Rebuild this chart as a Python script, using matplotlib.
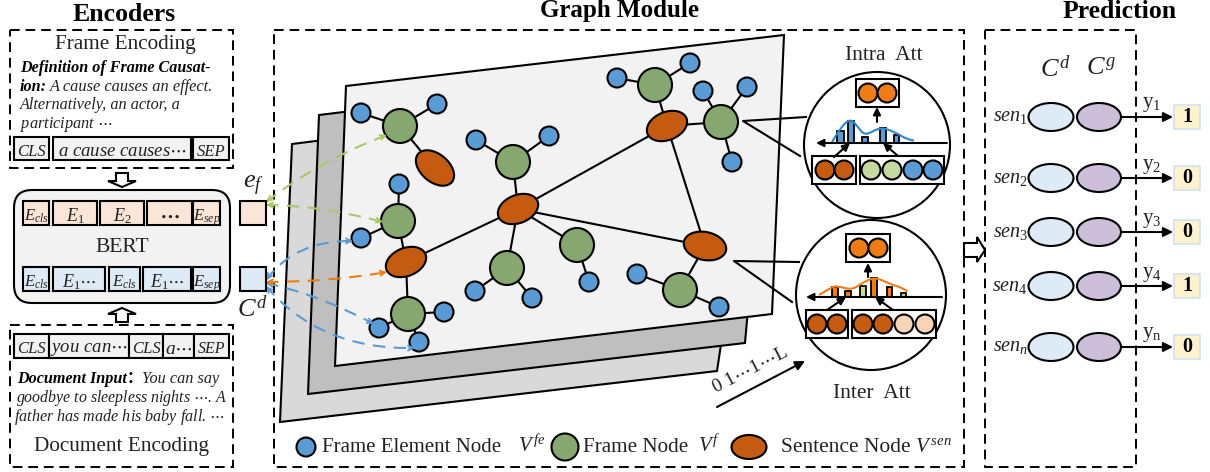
"""Pipeline figure: encoders, graph module and prediction panels, in pixel coordinates."""
import matplotlib
matplotlib.use("Agg")
import matplotlib.pyplot as plt
from matplotlib.patches import Circle, Ellipse, FancyBboxPatch, PathPatch, Polygon, Rectangle
from matplotlib.path import Path

plt.rcParams["font.family"] = ["Liberation Serif", "DejaVu Serif"]
plt.rcParams["mathtext.fontset"] = "custom"
plt.rcParams["mathtext.rm"] = "Liberation Serif"
plt.rcParams["mathtext.it"] = "Liberation Serif:italic"
plt.rcParams["mathtext.bf"] = "Liberation Serif:bold"

# ---------------------------------------------------------------------------
# Colours
# ---------------------------------------------------------------------------
BLUE = "#5B9BD5"
GREEN = "#86A870"
RUST = "#C55A11"
ORANGE = "#ED7D14"
PALE_GREEN = "#C5D9A0"
PEACH = "#F8D3B6"
TOKEN_GREY = "#F2F2F2"
TOKEN_PEACH = "#FBE5D6"
TOKEN_BLUE = "#DEEAF6"
PURPLE = "#CDBFDA"
INK = "#222222"

# ---------------------------------------------------------------------------
# Graph nodes
# ---------------------------------------------------------------------------
blue_nodes = {
    "a1": (361, 113), "a2": (437, 104), "b1": (476, 140), "b2": (549, 136),
    "c1": (399, 184), "c2": (361, 238), "d1": (379, 328), "d2": (444, 312),
    "d3": (419, 342), "e1": (475, 291), "e2": (532, 298), "f1": (617, 78),
    "f2": (690, 63), "g1": (703, 91), "g2": (747, 87), "g3": (732, 162),
    "h1": (589, 282), "i1": (637, 274), "i2": (719, 307),
}
green_nodes = {
    "A": (400, 126), "B": (513, 162), "C": (398, 221), "D": (408, 314),
    "E": (507, 268), "F": (655, 85), "G": (721, 122), "H": (577, 245),
    "I": (680, 290),
}
# centre, width, height, clockwise angle
rust_nodes = {
    "S1": ((435, 168), 44, 28, 40),
    "S2": ((518, 209), 42, 28, -22),
    "S3": ((406, 262), 42, 28, -22),
    "S4": ((667, 126), 42, 28, -22),
    "S5": ((705, 246), 43, 28, 12),
}
edges = [
    ("a1", "A"), ("a2", "A"), ("A", "S1"), ("b1", "B"), ("b2", "B"), ("B", "S2"),
    ("c1", "C"), ("c2", "C"), ("C", "S3"), ("S3", "D"), ("D", "d1"), ("D", "d2"),
    ("D", "d3"), ("S3", "S2"), ("S2", "H"), ("S2", "E"), ("E", "e1"), ("E", "e2"),
    ("S2", "S4"), ("S2", "S5"), ("S4", "S5"), ("S4", "F"), ("F", "f1"), ("F", "f2"),
    ("S4", "G"), ("G", "g1"), ("G", "g2"), ("G", "g3"), ("H", "h1"), ("S5", "I"),
    ("I", "i1"), ("I", "i2"),
]
plates = [
    [(292, 144), (760, 85), (717, 371), (280, 422)],
    [(319, 115), (770, 60), (745, 343), (308, 394)],
    [(346, 86), (784, 35), (772, 314), (335, 366)],
]
plate_fills = ["#D9D9D9", "#BFBFBF", TOKEN_GREY]

# start, control, end, colour
links = [
    ((266, 202), (320, 160), (387, 135), "#A9C868"),
    ((266, 205), (320, 205), (383, 222), "#A9C868"),
    ((266, 280), (295, 240), (353, 241), BLUE),
    ((266, 283), (320, 295), (374, 324), BLUE),
    ((266, 286), (320, 350), (415, 348), BLUE),
    ((266, 282), (330, 282), (387, 272), ORANGE),
]

# ---------------------------------------------------------------------------
# Attention insets
# ---------------------------------------------------------------------------
intra_bars_x = [837, 848, 862, 880, 894]
intra_bars_w = [7, 6, 6, 6, 5]
intra_bars_top = [131, 121, 137, 128, 135]
intra_bars_col = [BLUE] * 5
intra_curve = [(832, 142), (839, 130), (850, 118), (858, 127), (865, 136),
               (880, 127), (895, 132), (908, 140), (920, 141)]

inter_bars_x = [832, 845, 860, 871, 887, 901]
inter_bars_w = [6, 6, 6, 6, 5, 5]
inter_bars_top = [287, 291, 286, 278, 287, 293]
inter_bars_col = [ORANGE, ORANGE, PALE_GREEN, ORANGE, ORANGE, PALE_GREEN]
inter_curve = [(819, 295), (832, 287), (837, 286), (852, 290), (862, 283),
               (875, 277), (890, 284), (903, 288), (912, 295)]

# ---------------------------------------------------------------------------
# Token rows: label, left, right, font size
# ---------------------------------------------------------------------------
frame_tokens = [("CLS", 14, 49, 12), ("a cause causes$\\cdots$", 53, 191, 13.5), ("SEP", 193, 229, 12)]
doc_tokens = [("CLS", 14, 49, 12), ("you can$\\cdots$", 49, 129, 13.5), ("CLS", 129, 163, 12),
              ("a$\\cdots$", 163, 194, 14), ("SEP", 194, 229, 11.5)]
bert_top = [("$E_{cls}$", 23, 49, 12), ("$E_{\\mathit{1}}$", 53, 97, 13), ("$E_{\\mathit{2}}$", 100, 144, 13),
            ("$\\mathbf{\\cdots}$", 147, 192, 14), ("$E_{sep}$", 193, 220, 12)]
bert_bottom = [("$E_{cls}$", 23, 49, 12), ("$E_{\\mathit{1}}\\cdots$", 53, 105, 13), ("$E_{cls}$", 109, 140, 12),
               ("$E_{\\mathit{1}}\\cdots$", 143, 191, 13), ("$E_{sep}$", 193, 220, 12)]

# ---------------------------------------------------------------------------
# Prediction rows
# ---------------------------------------------------------------------------
sen_labels = ["$sen_{\\mathit{1}}$", "$sen_{\\mathit{2}}$", "$sen_{\\mathit{3}}$", "$sen_{\\mathit{4}}$", "$sen_n$"]
sen_rows = [117, 178, 232, 286, 347]
y_labels = ["y$_1$", "y$_2$", "y$_3$", "y$_4$", "y$_\\mathrm{n}$"]
y_values = ["1", "0", "0", "1", "0"]

fig = plt.figure(figsize=(12.1, 4.72), dpi=100)
ax = fig.add_axes([0, 0, 1, 1])
ax.set_xlim(0, 1210)
ax.set_ylim(472, 0)
ax.axis("off")

LW = 1.5
DASH = (0, (5, 3))
BODY = 11.6


def dashed_box(x0, y0, x1, y1):
    ax.add_patch(Rectangle((x0, y0), x1 - x0, y1 - y0, fill=False, ec="black", lw=1.4, ls=DASH, zorder=1))


def token_row(tokens, y0, y1, fill):
    for label, x0, x1, size in tokens:
        ax.add_patch(Rectangle((x0, y0), x1 - x0, y1 - y0, fc=fill, ec="black", lw=LW, zorder=6))
        ax.text((x0 + x1) / 2, (y0 + y1) / 2 + 1, label, style="italic", fontsize=size,
                ha="center", va="center_baseline", zorder=7, color=INK)


def hollow_arrow(points):
    ax.add_patch(Polygon(points, closed=True, fc="white", ec="black", lw=LW, zorder=6))


def smooth_path(points):
    # quadratic segments through the midpoints of the read-off points
    verts = [points[0]]
    codes = [Path.MOVETO]
    for i in range(1, len(points) - 1):
        mid = ((points[i][0] + points[i + 1][0]) / 2, (points[i][1] + points[i + 1][1]) / 2)
        verts += [points[i], mid]
        codes += [Path.CURVE3, Path.CURVE3]
    return Path(verts, codes)


def arrow(p0, p1, color="black", lw=LW, style="-|>", scale=11, z=8):
    ax.annotate("", xy=p1, xytext=p0, zorder=z,
                arrowprops=dict(arrowstyle=style, color=color, lw=lw, mutation_scale=scale,
                                shrinkA=0, shrinkB=0))


def dashed_link(start, ctrl, end, color):
    path = Path([start, ctrl, end], [Path.MOVETO, Path.CURVE3, Path.CURVE3])
    ax.add_patch(PathPatch(path, fill=False, ec=color, lw=1.5, ls=(0, (6, 4)), zorder=4))
    # open heads at both ends, pointing along the end tangents
    for tip, back in ((end, ctrl), (start, ctrl)):
        dx, dy = back[0] - tip[0], back[1] - tip[1]
        norm = (dx ** 2 + dy ** 2) ** 0.5
        tail = (tip[0] + dx / norm * 6, tip[1] + dy / norm * 6)
        arrow(tail, tip, color=color, lw=1.3, style="->", scale=9, z=4)


def node_circle(center, r, fill, z=3, lw=LW):
    ax.add_patch(Circle(center, r, fc=fill, ec="black", lw=lw, zorder=z))


def inset(center, r, wedge, bars_x, bars_w, bars_top, bars_col, curve, curve_col, axis_y, axis_x,
          top_box, top_cx, top_col, left_box, left_cx, right_box, right_cx, right_cols, box_cy,
          up_arrow, in_arrows):
    ax.plot([p[0] for p in wedge], [p[1] for p in wedge], color="black", lw=LW, zorder=4)
    ax.add_patch(Circle(center, r, fc="white", ec="black", lw=LW, zorder=5))
    for x0, y0, x1, y1 in (top_box, left_box, right_box):
        ax.add_patch(Rectangle((x0, y0), x1 - x0, y1 - y0, fc="white", ec="black", lw=LW, zorder=6))
    for cx in top_cx:
        node_circle((cx, (top_box[1] + top_box[3]) / 2), 9.5, top_col, z=7)
    for cx in left_cx:
        node_circle((cx, box_cy), 9.5, RUST, z=7)
    for cx, col in zip(right_cx, right_cols):
        node_circle((cx, box_cy), 9.5, col, z=7)
    for x, w, top, col in zip(bars_x, bars_w, bars_top, bars_col):
        ax.add_patch(Rectangle((x, top), w, axis_y - top, fc=col, ec="black", lw=1.3, zorder=6))
    ax.add_patch(PathPatch(smooth_path(curve), fill=False, ec=curve_col, lw=1.5, zorder=7))
    arrow((axis_x[1], axis_y), (axis_x[0], axis_y))
    arrow(*up_arrow)
    for p0, p1 in in_arrows:
        arrow(p0, p1)


# ---------------------------------------------------------------------------
# Encoders panel
# ---------------------------------------------------------------------------
ax.text(124, 21, "Encoders", fontsize=18.5, fontweight="bold", ha="center", va="baseline")
dashed_box(10, 30, 233, 168)
ax.text(125, 45, "Frame Encoding", fontsize=15.3, ha="center", va="center", color=INK)
ax.text(20, 68, "Definition of Frame Causat-", fontsize=BODY, style="italic", fontweight="bold", va="center")
ax.text(20, 87, "ion:", fontsize=BODY, style="italic", fontweight="bold", va="center")
ax.text(50, 87, "A cause causes an effect.", fontsize=11.8, style="italic", va="center", color=INK)
ax.text(20, 105, "Alternatively, an actor, a", fontsize=11.7, style="italic", va="center", color=INK)
ax.text(20, 124, "participant $\\cdots$", fontsize=11.7, style="italic", va="center", color=INK)
token_row(frame_tokens, 137, 160, TOKEN_GREY)
hollow_arrow([(116, 173), (128, 173), (128, 181), (136, 181), (122, 187), (108, 181), (116, 181)])

ax.add_patch(FancyBboxPatch((14, 190), 216, 113, boxstyle="round,pad=0,rounding_size=18",
                            fc=TOKEN_GREY, ec="black", lw=LW, zorder=2))
token_row(bert_top, 201, 225, TOKEN_PEACH)
token_row(bert_bottom, 267, 291, TOKEN_BLUE)
ax.text(122, 247, "BERT", fontsize=15.5, ha="center", va="center", zorder=7, color=INK)

ax.add_patch(Rectangle((240, 201), 26, 24, fc=TOKEN_PEACH, ec="black", lw=LW, zorder=6))
ax.add_patch(Rectangle((240, 267), 26, 24, fc=TOKEN_BLUE, ec="black", lw=LW, zorder=6))
ax.text(253, 186, "$e_f$", fontsize=19, ha="center", va="center", color=INK)
ax.text(252, 309, "$C^d$", fontsize=19, ha="center", va="center", color=INK)

hollow_arrow([(116, 322), (128, 322), (128, 314), (136, 314), (122, 308), (108, 314), (116, 314)])
dashed_box(10, 325, 233, 467)
token_row(doc_tokens, 334, 358, TOKEN_GREY)
ax.text(17, 379, "Document Input\uff1a", fontsize=BODY, style="italic", fontweight="bold", va="center",
        family=["Liberation Serif", "Noto Sans CJK SC"])
ax.text(142, 379, "You can say", fontsize=11.7, style="italic", va="center", color=INK)
ax.text(16, 398, "goodbye to sleepless nights $\\cdots$. A", fontsize=11.4, style="italic", va="center", color=INK)
ax.text(14, 417, "father has made his baby fall. $\\cdots$", fontsize=11.6, style="italic", va="center", color=INK)
ax.text(121, 447, "Document Encoding", fontsize=15.3, ha="center", va="center", color=INK)

# ---------------------------------------------------------------------------
# Graph module panel
# ---------------------------------------------------------------------------
ax.text(620, 17.5, "Graph Module", fontsize=18, fontweight="bold", ha="center", va="baseline")
dashed_box(274, 30, 964, 467)
for corners, fill in zip(plates, plate_fills):
    ax.add_patch(Polygon(corners, closed=True, fc=fill, ec="black", lw=LW, zorder=1.5))

positions = {**blue_nodes, **green_nodes, **{k: v[0] for k, v in rust_nodes.items()}}
for a, b in edges:
    ax.plot([positions[a][0], positions[b][0]], [positions[a][1], positions[b][1]],
            color="black", lw=LW, zorder=2)
for center in blue_nodes.values():
    node_circle(center, 9.5, BLUE)
for center in green_nodes.values():
    node_circle(center, 17, GREEN)
for center, w, h, angle in rust_nodes.values():
    ax.add_patch(Ellipse(center, w, h, angle=angle, fc=RUST, ec="black", lw=LW, zorder=3))
for start, ctrl, end, color in links:
    dashed_link(start, ctrl, end, color)

ax.text(884, 55, "Intra  Att", fontsize=15.5, ha="center", va="center", color=INK)
inset((877, 145), 73, [(806, 117), (743, 121), (800, 156)],
      intra_bars_x, intra_bars_w, intra_bars_top, intra_bars_col, intra_curve, "#2E86C8",
      143, (816, 947), (856, 79, 899, 107), [868, 887], ORANGE,
      (812, 156, 856, 184), [825, 844], (860, 156, 944, 184), [871, 892, 913, 933],
      [PALE_GREEN, PALE_GREEN, BLUE, BLUE], 170,
      ((877, 122), (877, 107)), [((834, 157), (850, 143)), ((898, 156), (883, 143))])
ax.text(872, 393, "Inter  Att", fontsize=15.5, ha="center", va="center", color=INK)
inset((871, 295), 75, [(799, 262), (734, 261), (792, 302)],
      inter_bars_x, inter_bars_w, inter_bars_top, inter_bars_col, inter_curve, ORANGE,
      297, (806, 942), (846, 234, 890, 262), [859, 878], ORANGE,
      (806, 310, 848, 338), [817, 837], (852, 310, 936, 338), [863, 883, 904, 925],
      [RUST, RUST, PEACH, PEACH], 324,
      ((868, 277), (868, 263)), [((827, 310), (846, 297)), ((893, 310), (875, 297))])

arrow((717, 407), (805, 361), lw=1.5, scale=14)
ax.text(750, 370, "0 1$\\cdots$1$\\cdots$L", fontsize=14, rotation=27, ha="center", va="center",
        color=INK, zorder=8)

# legend row
node_circle((306, 447), 9.5, BLUE)
ax.text(322, 448, "Frame Element Node", fontsize=15, va="center", color=INK)
ax.text(518, 447, "$V^{\\,fe}$", fontsize=15, va="center", color=INK)
node_circle((565, 447), 13.5, GREEN)
ax.text(583, 448, "Frame Node", fontsize=15.2, va="center", color=INK)
ax.text(698, 447, "$V^{f}$", fontsize=15, va="center", color=INK)
ax.add_patch(Ellipse((749, 447), 35, 24, fc=RUST, ec="black", lw=LW, zorder=3))
ax.text(781, 448, "Sentence Node", fontsize=15.5, va="center", color=INK)
ax.text(915, 447, "$V^{\\,sen}$", fontsize=15, va="center", color=INK)

hollow_arrow([(964, 243), (977, 243), (977, 237), (985, 250), (977, 262), (977, 257), (964, 257)])

# ---------------------------------------------------------------------------
# Prediction panel
# ---------------------------------------------------------------------------
ax.text(1120, 17.5, "Prediction", fontsize=18.5, fontweight="bold", ha="center", va="baseline")
dashed_box(985, 30, 1136, 467)
ax.text(1055, 69, "$C^d$", fontsize=19, ha="center", va="center", color=INK)
ax.text(1101, 69, "$C^g$", fontsize=19, ha="center", va="center", color=INK)

for sen, row, yl, val in zip(sen_labels, sen_rows, y_labels, y_values):
    ax.text(1028, row, sen, fontsize=14.5, ha="right", va="center", color=INK)
    ax.add_patch(Ellipse((1051, row), 45, 28, fc=TOKEN_BLUE, ec="black", lw=LW, zorder=3))
    ax.add_patch(Ellipse((1099, row), 44, 28, fc=PURPLE, ec="black", lw=LW, zorder=3))
    arrow((1121, row), (1173, row), scale=14)
    ax.text(1152, row - 12, yl, fontsize=15, ha="center", va="center", color=INK)
    ax.add_patch(Rectangle((1174, row - 12), 26, 24, fc="#FFF2CC", ec="#CFE2F3", lw=1.2, zorder=6))
    ax.text(1187, row, val, fontsize=14.5, fontweight="bold", ha="center", va="center", zorder=7)

fig.savefig("out.png", dpi=100)
